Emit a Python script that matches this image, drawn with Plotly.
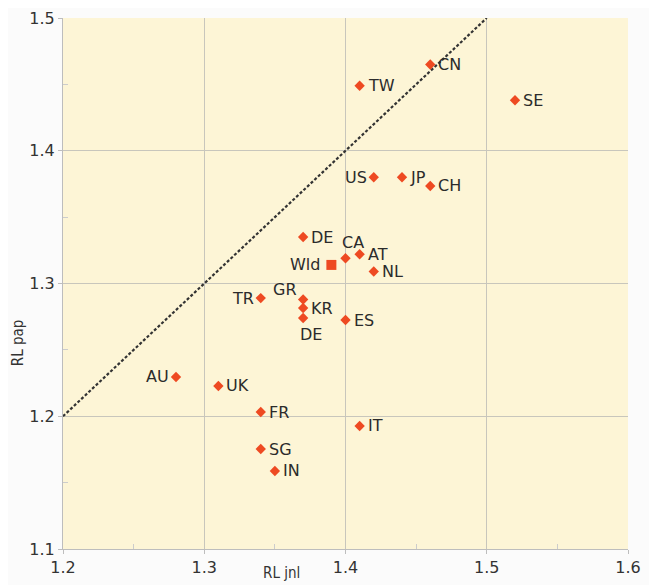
import plotly.graph_objects as go

codes = ["CN", "TW", "SE", "US", "JP", "CH", "DE", "CA", "AT", "NL",
         "TR", "GR", "KR", "DE", "ES", "AU", "UK", "FR", "IT", "SG", "IN"]
rl_jnl = [1.46, 1.41, 1.52, 1.42, 1.44, 1.46, 1.37, 1.40, 1.41, 1.42,
          1.34, 1.37, 1.37, 1.37, 1.40, 1.28, 1.31, 1.34, 1.41, 1.34, 1.35]
rl_pap = [1.465, 1.449, 1.438, 1.380, 1.380, 1.3735, 1.335, 1.319, 1.322, 1.309,
          1.289, 1.288, 1.2815, 1.274, 1.2725, 1.2296, 1.2228, 1.2032, 1.1927, 1.1753, 1.1588]
# label side: R = right, L = left, T = above, B = below, TL = above-left
label_side = ["R", "R", "R", "L", "R", "R", "R", "T", "R", "R",
              "L", "TL", "R", "B", "R", "L", "R", "R", "R", "R", "R"]
world_label = ["Wld"]
world_x = [1.39]
world_y = [1.314]
diag = [1.2, 1.5]

x_ticks = [1.2, 1.3, 1.4, 1.5, 1.6]
y_ticks = [1.1, 1.2, 1.3, 1.4, 1.5]

label_font = dict(family="DejaVu Sans", size=16, color="#2b2b2b")

fig = go.Figure()
fig.add_trace(go.Scatter(x=diag, y=diag, mode="lines",
                         line=dict(color="#333333", width=2.2, dash="3px,2px"),
                         hoverinfo="skip", showlegend=False))
fig.add_trace(go.Scatter(x=rl_jnl, y=rl_pap, mode="markers",
                         marker=dict(symbol="diamond", size=8, color="#EE4A22"),
                         showlegend=False))
fig.add_trace(go.Scatter(x=world_x, y=world_y, mode="markers",
                         marker=dict(symbol="square", size=10, color="#EE4A22"),
                         showlegend=False))

annotations = []
for c, x, y, s in zip(codes, rl_jnl, rl_pap, label_side):
    a = dict(text=c, x=x, y=y, xref="x", yref="y", showarrow=False, font=label_font)
    if s == "R":
        a.update(xanchor="left", yanchor="middle", xshift=6)
    elif s == "L":
        a.update(xanchor="right", yanchor="middle", xshift=-5)
    elif s == "T":
        a.update(xanchor="center", yanchor="bottom", xshift=7, yshift=4)
    elif s == "B":
        a.update(xanchor="center", yanchor="top", xshift=8, yshift=-5)
    elif s == "TL":
        a.update(xanchor="right", yanchor="bottom", xshift=-4, yshift=-2)
    annotations.append(a)
for t, x, y in zip(world_label, world_x, world_y):
    annotations.append(dict(text=t, x=x, y=y, xref="x", yref="y", showarrow=False,
                            font=label_font, xanchor="right", yanchor="middle", xshift=-9))

annotations += [
    dict(text="RL jnl", x=1.355, y=0, xref="x", yref="paper", yshift=-24,
         xanchor="center", yanchor="middle",
         showarrow=False, font=dict(family="Liberation Sans Narrow, DejaVu Sans Condensed", size=15, color="#333333")),
    dict(text="RL pap", x=0, y=1.255, xref="paper", yref="y", xshift=-45, textangle=-90,
         xanchor="center", yanchor="middle",
         showarrow=False, font=dict(family="Liberation Sans Narrow, DejaVu Sans Condensed", size=15, color="#333333")),
]

fig.update_layout(
    width=657, height=585,
    margin=dict(l=55, r=37, t=10, b=44, autoexpand=False),
    paper_bgcolor="#fbfbfb",
    plot_bgcolor="#FDF5D6",
    font=dict(family="DejaVu Sans", size=16, color="#333333"),
    xaxis=dict(range=[1.2, 1.6], tickvals=x_ticks, ticktext=[f"{v:.1f}" for v in x_ticks],
               showgrid=True, gridcolor="#c8c6bc", gridwidth=1, zeroline=False,
               showline=True, linecolor="#bdbdbd", ticks="outside", ticklen=4,
               tickcolor="#bdbdbd", automargin=False,
               minor=dict(tickvals=[1.25, 1.35, 1.45, 1.55], ticks="inside", ticklen=5,
                          tickcolor="#cccccc", showgrid=False),
               tickfont=dict(size=16)),
    yaxis=dict(range=[1.1, 1.5], tickvals=y_ticks, ticktext=[f"{v:.1f}" for v in y_ticks],
               showgrid=True, gridcolor="#c8c6bc", gridwidth=1, zeroline=False,
               showline=True, linecolor="#bdbdbd", ticks="outside", ticklen=4,
               tickcolor="#bdbdbd", automargin=False,
               minor=dict(tickvals=[1.15, 1.25, 1.35, 1.45], ticks="inside", ticklen=5,
                          tickcolor="#cccccc", showgrid=False),
               tickfont=dict(size=16)),
    annotations=annotations,
)

fig.write_html("out.html")
